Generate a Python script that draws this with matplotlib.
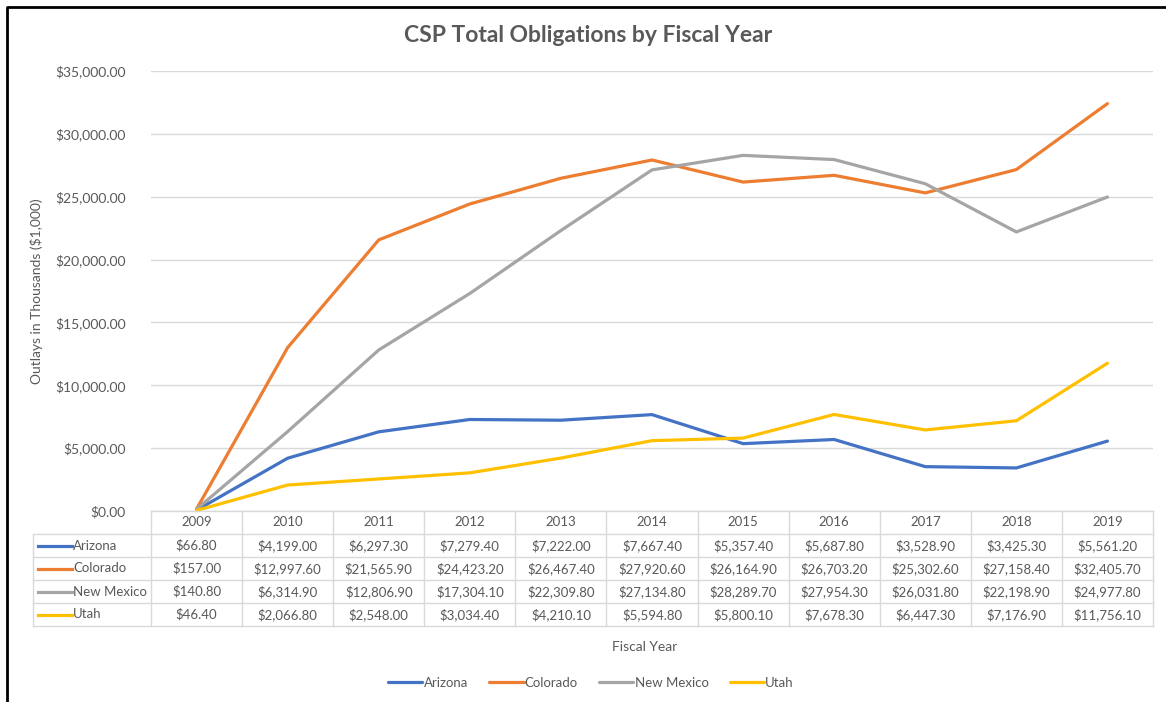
import matplotlib
matplotlib.use("Agg")
import matplotlib.pyplot as plt
from matplotlib import font_manager, transforms
from matplotlib.lines import Line2D

years = [2009, 2010, 2011, 2012, 2013, 2014, 2015, 2016, 2017, 2018, 2019]
arizona = [66.80, 4199.00, 6297.30, 7279.40, 7222.00, 7667.40, 5357.40, 5687.80, 3528.90, 3425.30, 5561.20]
colorado = [157.00, 12997.60, 21565.90, 24423.20, 26467.40, 27920.60, 26164.90, 26703.20, 25302.60, 27158.40, 32405.70]
new_mexico = [140.80, 6314.90, 12806.90, 17304.10, 22309.80, 27134.80, 28289.70, 27954.30, 26031.80, 22198.90, 24977.80]
utah = [46.40, 2066.80, 2548.00, 3034.40, 4210.10, 5594.80, 5800.10, 7678.30, 6447.30, 7176.90, 11756.10]
states = ["Arizona", "Colorado", "New Mexico", "Utah"]
y_ticks = [0, 5000, 10000, 15000, 20000, 25000, 30000, 35000]

colors = ["#4472C4", "#ED7D31", "#A5A5A5", "#FFC000"]
series = [arizona, colorado, new_mexico, utah]
txt = "#595959"
grid = "#D9D9D9"

installed = {f.name for f in font_manager.fontManager.ttflist}
base_font = "Liberation Sans Narrow" if "Liberation Sans Narrow" in installed else "Lato"
plt.rcParams["font.family"] = [base_font, "DejaVu Sans"]

W, H = 1166, 702
fig = plt.figure(figsize=(W / 100, H / 100), dpi=100)


def fx(px):
    return px / W


def fy(py):
    return 1 - py / H


ax = fig.add_axes([fx(151), fy(511), fx(1153) - fx(151), fy(71) - fy(511)])
x = list(range(len(years)))
handles = []
for name, vals, col in zip(states, series, colors):
    (ln,) = ax.plot(x, vals, color=col, lw=2.3, label=name, solid_capstyle="round")
    handles.append(ln)

ax.set_xlim(-0.5, len(years) - 0.5)
ax.set_ylim(0, 35000)
ax.set_yticks(y_ticks)
ax.set_yticklabels([f"${v:,.2f}" for v in y_ticks], color=txt, fontsize=10)
ax.set_xticks([])
ax.tick_params(axis="y", length=0, pad=18)
ax.grid(axis="y", color=grid, lw=1)
ax.set_axisbelow(True)
for s in ax.spines.values():
    s.set_visible(False)

# data table under the plot
bt = transforms.blended_transform_factory(ax.transData, fig.transFigure)
row_edges = [511, 534, 557, 580, 603, 626]
lkw = dict(color=grid, lw=1)
fig.add_artist(Line2D([-0.5, len(years) - 0.5], [fy(row_edges[0])] * 2, transform=bt, **lkw))
for e in row_edges[1:]:
    fig.add_artist(Line2D([fx(33), fx(1153)], [fy(e)] * 2, transform=fig.transFigure, **lkw))
for k in range(len(years) + 1):
    fig.add_artist(Line2D([k - 0.5, k - 0.5], [fy(row_edges[0]), fy(row_edges[-1])], transform=bt, **lkw))
fig.add_artist(Line2D([fx(33), fx(33)], [fy(row_edges[1]), fy(row_edges[-1])], transform=fig.transFigure, **lkw))

hy = fy((row_edges[0] + row_edges[1]) / 2)
for i, yr in enumerate(years):
    fig.text(i, hy, str(yr), transform=bt, ha="center", va="center", color=txt, fontsize=9.5)

for r, (name, vals, col) in enumerate(zip(states, series, colors)):
    yc = fy((row_edges[r + 1] + row_edges[r + 2]) / 2)
    fig.add_artist(Line2D([fx(38), fx(72)], [yc, yc], color=col, lw=2.3, transform=fig.transFigure))
    fig.text(fx(73), yc, name, ha="left", va="center", color=txt, fontsize=9.5)
    for i, v in enumerate(vals):
        fig.text(i, yc, f"${v:,.2f}", transform=bt, ha="center", va="center", color=txt, fontsize=9.5)

fig.text(fx(588), fy(36), "CSP Total Obligations by Fiscal Year", ha="center", va="center",
         color=txt, fontsize=16.5, fontweight="bold")
fig.text(fx(37), fy(291), "Outlays in Thousands ($1,000)", rotation=90, ha="center", va="center",
         color=txt, fontsize=10)
fig.text(fx(645), fy(647), "Fiscal Year", ha="center", va="center", color=txt, fontsize=10)

fig.legend(handles=handles, loc="center", bbox_to_anchor=(fx(591), fy(683)), ncol=4, frameon=False,
           fontsize=9.5, handlelength=2.6, handletextpad=0.1, columnspacing=1.6, labelcolor=txt)

# black frame at the top and left of the screenshot
fig.add_artist(Line2D([fx(7), fx(7), 1], [0, fy(7), fy(7)], color="black", lw=2, transform=fig.transFigure))

fig.savefig("out.png", dpi=100)
